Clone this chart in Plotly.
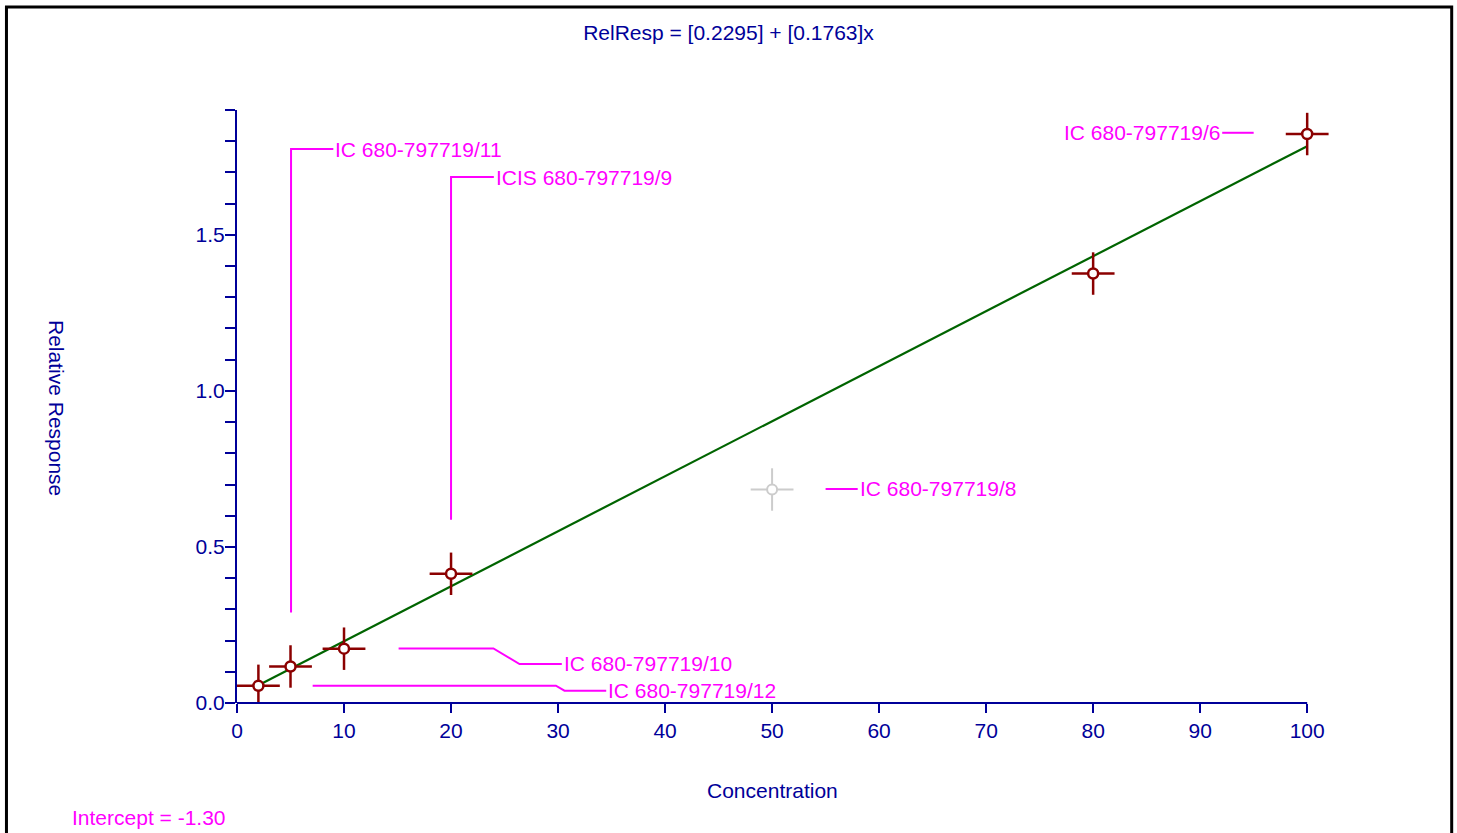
import plotly.graph_objects as go

# ---- data ----
conc = [2, 5, 10, 20, 80, 100]
rel_resp = [0.055, 0.117, 0.174, 0.414, 1.376, 1.823]
excl_conc = [50]
excl_resp = [0.684]
x_err = 2.0
y_err = 0.068
fit_x = [2, 100]
fit_y = [0.057, 1.784]

label_texts = ["IC 680-797719/11", "ICIS 680-797719/9", "IC 680-797719/6",
               "IC 680-797719/8", "IC 680-797719/10", "IC 680-797719/12"]
leader_x = [[5.05, 5.05, 9.0], [20.0, 20.0, 24.0], [95.0, 92.06],
            [55.0, 58.0], [15.1, 23.96, 26.4, 30.35], [7.07, 29.8, 30.6, 34.5]]
leader_y = [[0.29, 1.775, 1.775], [0.587, 1.685, 1.685], [1.827, 1.827],
            [0.686, 0.686], [0.175, 0.175, 0.125, 0.125], [0.0555, 0.0555, 0.0395, 0.0395]]
label_anchor = ["left", "left", "right", "left", "left", "left"]

x_ticks = list(range(0, 101, 10))
x_min, x_max = 0, 100
y_ticks = [0.0, 0.5, 1.0, 1.5]
y_ticktext = ["0.0", "0.5", "1.0", "1.5"]

# ---- style ----
NAVY = "#000099"
DARKRED = "#8B0000"
MAGENTA = "#FF00FF"
GREEN = "#006400"
FONT = "Liberation Sans, Arial, sans-serif"
FS = 21

W, H = 1457, 833
PX_PER_UNIT = 10.7
X_PAD = 2.6  # extra room on the right so the last cross is not clipped
ML, MT, MB = 237, 110, 130
PW = PX_PER_UNIT * (x_max - x_min + X_PAD)
MR = W - ML - PW
PH = H - MT - MB


def pxx(p):
    return (p - ML) / PW


def pxy(p):
    return (H - MB - p) / PH


fig = go.Figure()

# leader lines
for lx, ly in zip(leader_x, leader_y):
    fig.add_trace(go.Scatter(x=lx, y=ly, mode="lines",
                             line=dict(color=MAGENTA, width=2),
                             hoverinfo="skip", showlegend=False))

# fit line
fig.add_trace(go.Scatter(x=fit_x, y=fit_y, mode="lines",
                         line=dict(color=GREEN, width=2.2),
                         showlegend=False))

# excluded point
fig.add_trace(go.Scatter(
    x=excl_conc, y=excl_resp, mode="markers",
    error_x=dict(type="constant", value=x_err, color="#CCCCCC", thickness=2, width=0),
    error_y=dict(type="constant", value=y_err, color="#CCCCCC", thickness=2, width=0),
    marker=dict(symbol="circle", size=10, color="white",
                line=dict(color="#CCCCCC", width=2)),
    showlegend=False))

# included points
fig.add_trace(go.Scatter(
    x=conc, y=rel_resp, mode="markers",
    error_x=dict(type="constant", value=x_err, color=DARKRED, thickness=2.5, width=0),
    error_y=dict(type="constant", value=y_err, color=DARKRED, thickness=2.5, width=0),
    marker=dict(symbol="circle", size=10, color="white",
                line=dict(color=DARKRED, width=2.5)),
    cliponaxis=False,
    showlegend=False))

annotations = []
for t, lx, ly, anc in zip(label_texts, leader_x, leader_y, label_anchor):
    annotations.append(dict(x=lx[-1], y=ly[-1], xref="x", yref="y", text=t,
                            showarrow=False, xanchor=anc, yanchor="middle",
                            font=dict(color=MAGENTA, size=FS, family=FONT)))

annotations.append(dict(x=(x_min + x_max) / 2, y=pxy(790), xref="x", yref="paper",
                        text="Concentration", showarrow=False,
                        xanchor="center", yanchor="middle",
                        font=dict(color=NAVY, size=FS, family=FONT)))
annotations.append(dict(x=pxx(57), y=pxy(408), xref="paper", yref="paper",
                        text="Relative Response", showarrow=False, textangle=90,
                        xanchor="center", yanchor="middle",
                        font=dict(color=NAVY, size=FS, family=FONT)))
annotations.append(dict(x=pxx(70), y=pxy(817), xref="paper", yref="paper",
                        text="Intercept = -1.30", showarrow=False,
                        xanchor="left", yanchor="middle",
                        font=dict(color=MAGENTA, size=FS, family=FONT)))

fig.update_layout(
    width=W, height=H,
    margin=dict(l=ML, r=MR, t=MT, b=MB, autoexpand=False),
    paper_bgcolor="white", plot_bgcolor="white",
    title=dict(text="RelResp = [0.2295] + [0.1763]x", x=0.5, xref="container",
               y=1 - 33 / H, yref="container", xanchor="center", yanchor="middle",
               font=dict(color=NAVY, size=FS, family=FONT)),
    font=dict(family=FONT, color=NAVY, size=FS),
    annotations=annotations,
    shapes=[
        dict(type="line", xref="x", yref="paper", x0=x_min, x1=x_max, y0=0, y1=0,
             line=dict(color=NAVY, width=2), layer="above"),
        dict(type="rect", xref="paper", yref="paper",
             x0=pxx(6.5), x1=pxx(1451.5), y0=pxy(845), y1=pxy(7),
             line=dict(color="black", width=3), layer="above"),
    ],
    xaxis=dict(range=[x_min, x_max + X_PAD], tickvals=x_ticks, ticks="outside",
               ticklen=9, tickwidth=2, tickcolor=NAVY, showline=False,
               showgrid=False, zeroline=False,
               tickfont=dict(color=NAVY, size=FS, family=FONT)),
    yaxis=dict(range=[0, 1.9], tickvals=y_ticks, ticktext=y_ticktext,
               ticks="outside", ticklen=10, tickwidth=2, tickcolor=NAVY,
               showline=True, linecolor=NAVY, linewidth=2, showgrid=False,
               zeroline=False, ticklabelstandoff=-4,
               minor=dict(dtick=0.1, tick0=0, ticks="outside", ticklen=10,
                          tickwidth=2, tickcolor=NAVY, showgrid=False),
               tickfont=dict(color=NAVY, size=FS, family=FONT)),
)

fig.write_html("out.html",
               config={"displayModeBar": False},
               post_script="document.body.style.margin='0';"
                           "document.body.style.overflow='hidden';")
